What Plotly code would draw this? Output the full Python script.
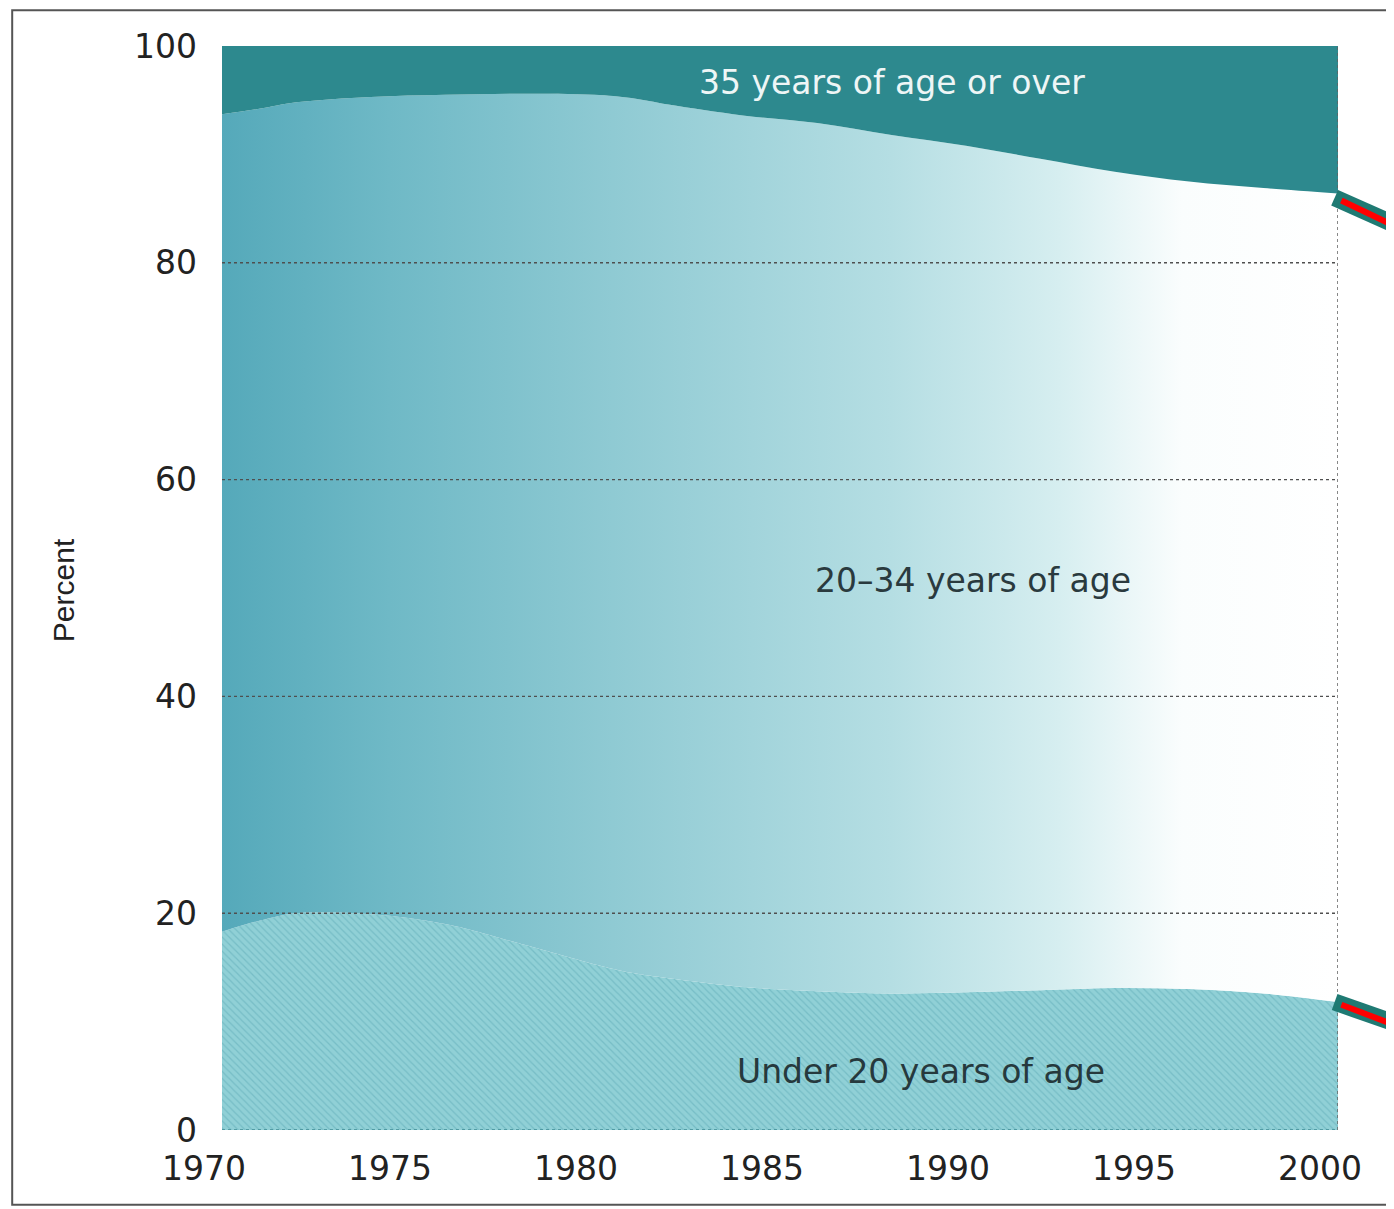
import plotly.graph_objects as go

# share of births by age of mother, percent
years = [1970, 1971, 1972, 1974, 1976, 1978, 1980, 1981, 1982, 1984,
         1986, 1988, 1990, 1992, 1994, 1996, 1998, 2000]
under_20 = [18.3, 19.3, 20.0, 19.9, 19.0, 17.2, 15.3, 14.5, 14.0, 13.2,
            12.8, 12.6, 12.7, 12.9, 13.1, 13.0, 12.6, 11.8]
over_35 = [6.3, 5.8, 5.2, 4.7, 4.5, 4.4, 4.5, 4.8, 5.4, 6.4,
           7.1, 8.2, 9.2, 10.4, 11.6, 12.5, 13.1, 13.6]
age_20_34 = [round(100 - a - b, 1) for a, b in zip(under_20, over_35)]

y_ticks = [0, 20, 40, 60, 80, 100]
x_ticks = [1970, 1975, 1980, 1985, 1990, 1995, 2000]

fig = go.Figure()

fig.add_trace(go.Scatter(
    x=years, y=under_20, stackgroup="one", mode="none", line_shape="spline",
    fillcolor="#8ccdd4",
    fillpattern=dict(shape="\\", size=5, solidity=0.25, fgcolor="#5eaab5", bgcolor="#90d0d6"),
    name="Under 20 years of age"))

fig.add_trace(go.Scatter(
    x=years, y=age_20_34, stackgroup="one", mode="none", line_shape="spline",
    fillgradient=dict(type="horizontal", colorscale=[
        [0.0, "#55a9ba"], [0.15, "#6fb9c6"], [0.35, "#8fcad3"],
        [0.6, "#b5dee3"], [0.75, "#d6eef0"], [0.86, "#fafdfd"], [1.0, "#ffffff"]]),
    name="20-34 years of age"))

fig.add_trace(go.Scatter(
    x=years, y=over_35, stackgroup="one", mode="none", line_shape="spline",
    fillcolor="#2d898e", name="35 years of age or over"))

# dotted gridlines sit on top of the fills in the original
for v in [20, 40, 60, 80]:
    fig.add_hline(y=v, line=dict(color="#4f4f4f", width=1.4, dash="dot"), layer="above")
fig.add_vline(x=2000, line=dict(color="#606060", width=1.5, dash="dot"), layer="above")
fig.add_hline(y=0, line=dict(color="#3f8c95", width=1.5, dash="dot"), layer="above")

lab_font = dict(family="DejaVu Sans", size=33)
fig.add_annotation(x=1988.0, y=96.6, text="35 years of age or over", showarrow=False,
                   font=dict(lab_font, color="#eef6f6"))
fig.add_annotation(x=1990.2, y=50.7, text="20\u201334 years of age", showarrow=False,
                   font=dict(lab_font, color="#2a3a3e"))
fig.add_annotation(x=1988.8, y=5.4, text="Under 20 years of age", showarrow=False,
                   font=dict(lab_font, color="#26393d"))

fig.add_annotation(x=-0.1425, y=0.498, xref="paper", yref="paper", text="Percent",
                   textangle=-90, showarrow=False, xanchor="center", yanchor="middle",
                   font=dict(family="Liberation Sans", size=30, color="#222222"))

# page frame of the scan
fig.add_shape(type="rect", xref="paper", yref="paper", x0=-0.188, x1=1.2, y0=-0.069, y1=1.033,
              line=dict(color="#555555", width=2))

# red/green pointer marks at the right edge
for y0, y1 in [(0.860, 0.822), (0.118, 0.088)]:
    fig.add_shape(type="line", xref="paper", yref="paper", x0=0.997, x1=1.08, y0=y0, y1=y1,
                  line=dict(color="#1f7a73", width=17))
    fig.add_shape(type="line", xref="paper", yref="paper", x0=1.003, x1=1.08,
                  y0=y0 - 0.0025, y1=y1 - 0.0025, line=dict(color="#ff0000", width=6))

# page body adds 8px offset, so the figure is a bit smaller than the window
fig.update_layout(
    width=1386, height=1201,
    margin=dict(l=214, r=56, t=38, b=79),
    paper_bgcolor="white", plot_bgcolor="white",
    showlegend=False,
    font=dict(family="DejaVu Sans", size=33, color="#222222"),
)
fig.update_xaxes(range=[1970, 2000], tickvals=x_ticks, showgrid=False, zeroline=False,
                 showline=False, ticks="", ticklabelstandoff=16, ticklabelshift=-18,
                 tickfont=dict(size=33))
fig.update_yaxes(range=[0, 100], tickvals=y_ticks, showgrid=False, zeroline=False,
                 showline=False, ticks="", ticklabelstandoff=24, tickfont=dict(size=33))

fig.write_html("out.html")
